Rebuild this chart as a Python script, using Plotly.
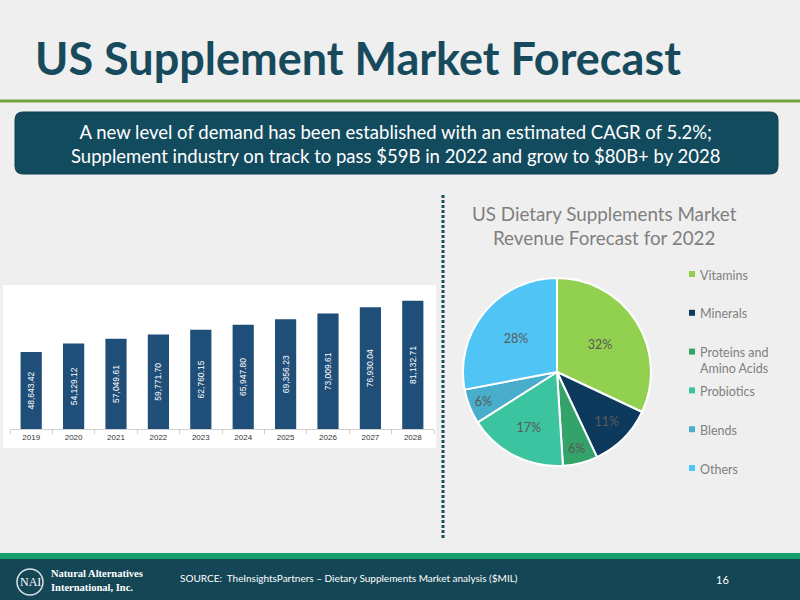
import plotly.graph_objects as go

W, H = 800, 600

def px(x):
    return x / W

def py(y):
    return 1 - y / H

# ---------------- data ----------------
years = ["2019", "2020", "2021", "2022", "2023", "2024", "2025", "2026", "2027", "2028"]
revenue = [48643.42, 54129.12, 57049.61, 59771.70, 62760.15, 65947.80, 69356.23, 73009.61, 76930.04, 81132.71]
revenue_labels = ["48,643.42", "54,129.12", "57,049.61", "59,771.70", "62,760.15",
                  "65,947.80", "69,356.23", "73,009.61", "76,930.04", "81,132.71"]

segments = ["Vitamins", "Minerals", "Proteins and Amino Acids", "Probiotics", "Blends", "Others"]
segment_legend = ["Vitamins", "Minerals", "Proteins and<br>Amino Acids", "Probiotics", "Blends", "Others"]
shares = [32, 11, 6, 17, 6, 28]
seg_colors = ["#92d050", "#0d3a5c", "#34a36a", "#3cc4a0", "#48aecb", "#50c4f5"]

TEAL = "#164a5c"
BG = "#efefef"
FONT = "Lato"

fig = go.Figure()

# bar chart
fig.add_trace(go.Bar(
    x=years, y=revenue, text=revenue_labels,
    textposition="inside", insidetextanchor="middle", textangle=-90,
    textfont=dict(family="Liberation Sans", size=8.5, color="white"),
    marker=dict(color="#1f4e79", line=dict(width=0)),
    width=0.5, xaxis="x", yaxis="y", showlegend=False, hoverinfo="x+y",
))

# pie chart
fig.add_trace(go.Pie(
    labels=segments, values=shares, sort=False, direction="clockwise", rotation=0,
    marker=dict(colors=seg_colors, line=dict(color="white", width=2)),
    textinfo="percent", texttemplate="%{value}%", textposition="inside",
    insidetextorientation="horizontal",
    textfont=dict(family=FONT, size=12.5, color="#595959"),
    domain=dict(x=[px(463), px(651)], y=[py(466), py(278)]),
    showlegend=False,
))

shapes = []
annotations = []

# title rule
shapes.append(dict(type="line", xref="paper", yref="paper", x0=0, x1=1, y0=py(101), y1=py(101),
                   line=dict(color="#74a23a", width=3)))

# banner rounded rectangle
bx0, bx1, by0, by1, r = 15, 778, 112, 174, 8
rx, ry = r / W, r / H
path = (f"M {px(bx0)+rx},{py(by0)} L {px(bx1)-rx},{py(by0)} Q {px(bx1)},{py(by0)} {px(bx1)},{py(by0)-ry} "
        f"L {px(bx1)},{py(by1)+ry} Q {px(bx1)},{py(by1)} {px(bx1)-rx},{py(by1)} "
        f"L {px(bx0)+rx},{py(by1)} Q {px(bx0)},{py(by1)} {px(bx0)},{py(by1)+ry} "
        f"L {px(bx0)},{py(by0)-ry} Q {px(bx0)},{py(by0)} {px(bx0)+rx},{py(by0)} Z")
shapes.append(dict(type="path", xref="paper", yref="paper", path=path,
                   fillcolor="#134b5e", line=dict(color="#0f3f50", width=1), layer="below"))

# white panel behind bar chart
shapes.append(dict(type="rect", xref="paper", yref="paper", x0=px(3), x1=px(436), y0=py(448), y1=py(285),
                   fillcolor="white", line=dict(width=0), layer="below"))

# dotted divider
shapes.append(dict(type="line", xref="paper", yref="paper", x0=px(443), x1=px(443), y0=py(195), y1=py(540),
                   line=dict(color="#1b4f60", width=3, dash="3px,2px")))

# footer
shapes.append(dict(type="rect", xref="paper", yref="paper", x0=0, x1=1, y0=py(559), y1=py(553),
                   fillcolor="#14a06b", line=dict(width=0)))
shapes.append(dict(type="rect", xref="paper", yref="paper", x0=0, x1=1, y0=0, y1=py(559),
                   fillcolor="#154656", line=dict(width=0)))
# logo circle
shapes.append(dict(type="circle", xref="paper", yref="paper", x0=px(17), x1=px(43), y0=py(595), y1=py(569),
                   line=dict(color="#d8e2e6", width=1.5)))

# title
annotations.append(dict(text="<b>US Supplement Market Forecast</b>", x=px(33), y=py(58), xref="paper", yref="paper",
                        xanchor="left", yanchor="middle", showarrow=False,
                        font=dict(family=FONT, size=45, color=TEAL)))
# banner text
annotations.append(dict(text="A new level of demand has been established with an estimated CAGR of 5.2%;<br>"
                             "Supplement industry on track to pass $59B in 2022 and grow to $80B+ by 2028",
                        x=px(395), y=py(144), xref="paper", yref="paper", xanchor="center", yanchor="middle",
                        showarrow=False, align="center",
                        font=dict(family=FONT, size=18.5, color="white")))
# pie title
annotations.append(dict(text="US Dietary Supplements Market<br>Revenue Forecast for 2022",
                        x=px(604), y=py(225), xref="paper", yref="paper", xanchor="center", yanchor="middle",
                        showarrow=False, align="center",
                        font=dict(family=FONT, size=18.8, color="#7f7f7f")))

# custom legend
for i, (name, col) in enumerate(zip(segment_legend, seg_colors)):
    yy = 274 + 38.8 * i
    shapes.append(dict(type="rect", xref="paper", yref="paper", x0=px(689), x1=px(695),
                       y0=py(yy + 3), y1=py(yy - 3), fillcolor=col, line=dict(width=0)))
    annotations.append(dict(text=name, x=px(698), y=py(yy - 8.5), xref="paper", yref="paper",
                            xanchor="left", yanchor="top", showarrow=False, align="left",
                            font=dict(family=FONT, size=12.5, color="#7f7f7f")))

# footer texts
annotations.append(dict(text="NAI", x=px(30), y=py(582), xref="paper", yref="paper", showarrow=False,
                        xanchor="center", yanchor="middle",
                        font=dict(family="Liberation Serif", size=12, color="white")))
annotations.append(dict(text="<b>Natural Alternatives</b><br><b>International, Inc.</b>", x=px(49), y=py(580),
                        xref="paper", yref="paper", showarrow=False, xanchor="left", yanchor="middle",
                        align="left", font=dict(family="Liberation Serif", size=10.5, color="white")))
annotations.append(dict(text="SOURCE:  TheInsightsPartners – Dietary Supplements Market analysis ($MIL)",
                        x=px(178), y=py(578), xref="paper", yref="paper", showarrow=False,
                        xanchor="left", yanchor="middle",
                        font=dict(family=FONT, size=10, color="white")))
annotations.append(dict(text="16", x=px(722), y=py(579), xref="paper", yref="paper", showarrow=False,
                        xanchor="center", yanchor="middle",
                        font=dict(family=FONT, size=11, color="white")))

fig.update_layout(
    width=W, height=H, margin=dict(l=0, r=0, t=0, b=0),
    paper_bgcolor=BG, plot_bgcolor="rgba(0,0,0,0)",
    shapes=shapes, annotations=annotations,
    xaxis=dict(domain=[px(10), px(434)], anchor="y", showgrid=False, zeroline=False,
               showline=True, linecolor="#d0d0d0", linewidth=1,
               ticks="outside", tickson="boundaries", ticklen=4, tickcolor="#d0d0d0",
               tickfont=dict(family="Liberation Sans", size=8, color="#333333"), fixedrange=True),
    yaxis=dict(domain=[py(429), py(290)], range=[0, 87900], visible=False, fixedrange=True),
    uniformtext=dict(minsize=7, mode="show"),
)

fig.write_html("out.html")
